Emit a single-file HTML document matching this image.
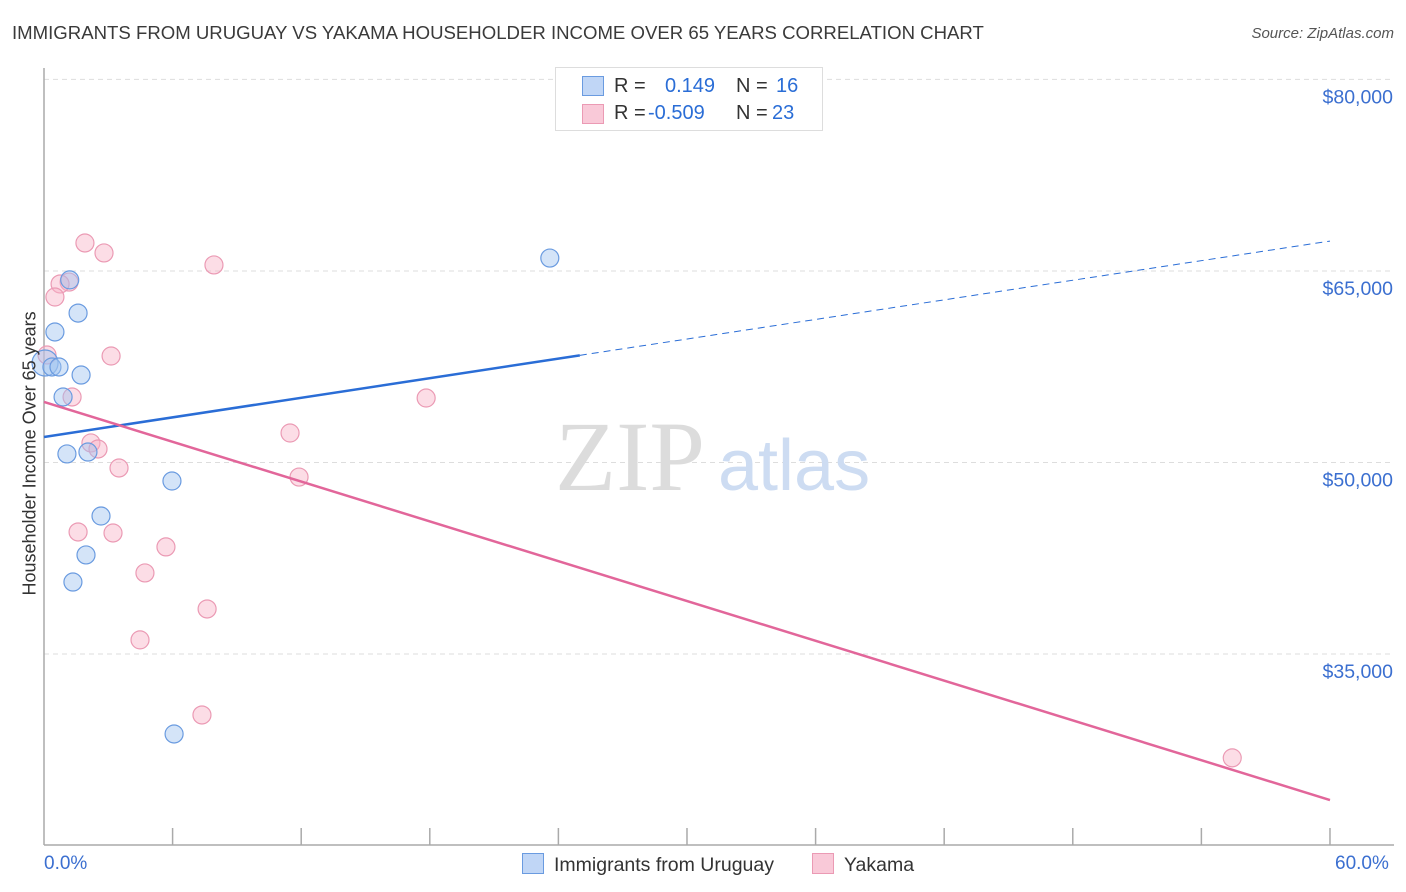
<!DOCTYPE html>
<html><head><meta charset="utf-8"><style>
body{margin:0;background:#fff;font-family:"Liberation Sans",sans-serif}
#wrap{position:relative;width:1406px;height:892px;overflow:hidden}
.t{position:absolute;white-space:nowrap}
</style></head><body>
<div id="wrap">
<div class="t" style="left:12px;top:22px;font-size:18.6px;color:#3a3a3a">IMMIGRANTS FROM URUGUAY VS YAKAMA HOUSEHOLDER INCOME OVER 65 YEARS CORRELATION CHART</div>
<div class="t" style="right:12px;top:25px;font-size:15px;color:#555;font-style:italic">Source: ZipAtlas.com</div>
<svg id="svg" width="1406" height="892" style="position:absolute;left:0;top:0"></svg>
</div>
<script>
const blueX=[1.2,1.59,0.51,0.05,0.37,0.7,1.73,0.89,1.07,2.05,5.97,2.66,1.96,1.35,6.07,23.6];
const blueY=[64300,61700,60220,57790,57480,57480,56850,55130,50670,50820,48550,45810,42760,40640,28740,66010];
const pinkX=[1.91,2.8,7.93,1.17,0.75,0.51,0.14,3.13,1.31,17.83,11.48,2.19,2.52,3.5,11.9,1.59,3.22,5.69,4.71,7.61,4.48,7.37,55.44];
const pinkY=[67190,66410,65470,64130,63980,62960,58420,58340,55130,55050,52310,51530,51060,49570,48860,44560,44480,43390,41350,38530,36110,30230,26870];
const yTicks=[80000,65000,50000,35000];
const yTickLabels=["$80,000","$65,000","$50,000","$35,000"];
const blueTrend=[52000,67340];
const pinkTrend=[54740,23570];
const NS="http://www.w3.org/2000/svg";
const svg=document.getElementById('svg');
const xs=p=>44+p*21.433;
const ys=v=>462.5-(v-50000)*0.01277;
function mk(tag,attrs,parent){const e=document.createElementNS(NS,tag);for(const k in attrs)e.setAttribute(k,attrs[k]);(parent||svg).appendChild(e);return e;}
yTicks.forEach((v,i)=>{
 const g=mk('line',{x1:44,x2:1394,y1:ys(v),y2:ys(v),stroke:'#ddd','stroke-dasharray':'5,4'});
 
 
 const t=mk('text',{x:1393,y:ys(v)+24,'text-anchor':'end','font-size':19.5,fill:'#3b6fd0','font-family':'Liberation Sans, sans-serif'});
 t.textContent=yTickLabels[i];
 
 
});
let a=mk('line',{x1:44,x2:44,y1:68,y2:845,stroke:'#aaa','stroke-width':1.5});


a=mk('line',{x1:44,x2:1394,y1:845,y2:845,stroke:'#aaa','stroke-width':1.5});


for(let i=1;i<=10;i++){const tk=mk('line',{x1:xs(i*6),x2:xs(i*6),y1:828,y2:845,stroke:'#aaa','stroke-width':1.5});
 
 }
let w=mk('text',{x:555,y:490,'font-size':100,fill:'#dcdcdc','font-family':'Liberation Serif, serif'});w.textContent='ZIP';


w=mk('text',{x:718,y:490,'font-size':72,fill:'#cddcf2','font-family':'Liberation Sans, sans-serif'});w.textContent='atlas';


function pts(X,Y,fill,stroke,name){X.forEach((x,i)=>{const c=mk('circle',{cx:xs(x),cy:ys(Y[i]),r:i==3&&name=='blue-point'?13:9,fill:fill,stroke:stroke,'stroke-width':1.2});
 
 });}
pts(pinkX,pinkY,'rgba(248,180,200,0.45)','#eb9ab4','pink-point');
pts(blueX,blueY,'rgba(160,195,240,0.45)','#6a9be0','blue-point');
const bv=p=>blueTrend[0]+(blueTrend[1]-blueTrend[0])*p/60;
let l=mk('line',{x1:xs(0),y1:ys(bv(0)),x2:xs(25),y2:ys(bv(25)),stroke:'#2a6dd6','stroke-width':2.5});


l=mk('line',{x1:xs(25),y1:ys(bv(25)),x2:xs(60),y2:ys(bv(60)),stroke:'#2a6dd6','stroke-width':1,'stroke-dasharray':'7,5'});


l=mk('line',{x1:xs(0),y1:ys(pinkTrend[0]),x2:xs(60),y2:ys(pinkTrend[1]),stroke:'#e2669a','stroke-width':2.5});


</script>
<div class="t" style="left:-110px;top:445px;width:280px;text-align:center;transform:rotate(-90deg);font-size:18px;color:#333">Householder Income Over 65 years</div>
<div class="t" style="left:44px;top:853px;font-size:19px;color:#3b6fd0">0.0%</div>
<div class="t" style="left:1335px;top:853px;font-size:19px;color:#3b6fd0">60.0%</div>
<div style="position:absolute;left:555px;top:67px;width:266px;height:62px;border:1px solid #ddd;background:#fff;font-size:20px">
 <div style="position:absolute;left:26px;top:8px;width:20px;height:18px;background:#c0d6f6;border:1px solid #6a9be0"></div>
 <div class="t" style="left:58px;top:7px;color:#333">R =</div>
 <div class="t" style="left:109px;top:7px;color:#2a6dd6">0.149</div>
 <div class="t" style="left:180px;top:7px;color:#333">N =</div>
 <div class="t" style="left:220px;top:7px;color:#2a6dd6">16</div>
 <div style="position:absolute;left:26px;top:36px;width:20px;height:18px;background:#f9c9d8;border:1px solid #eb9ab4"></div>
 <div class="t" style="left:58px;top:34px;color:#333">R =</div>
 <div class="t" style="left:92px;top:34px;color:#2a6dd6">-0.509</div>
 <div class="t" style="left:180px;top:34px;color:#333">N =</div>
 <div class="t" style="left:216px;top:34px;color:#2a6dd6">23</div>
</div>
<div style="position:absolute;left:522px;top:853px;font-size:19.5px;color:#333">
 <span style="display:inline-block;width:20px;height:19px;background:#c0d6f6;border:1px solid #6a9be0;vertical-align:-3px;margin-right:10px"></span>Immigrants from Uruguay</div>
<div style="position:absolute;left:812px;top:853px;font-size:19.5px;color:#333">
 <span style="display:inline-block;width:20px;height:19px;background:#f9c9d8;border:1px solid #eb9ab4;vertical-align:-3px;margin-right:10px"></span>Yakama</div>
</body></html>
